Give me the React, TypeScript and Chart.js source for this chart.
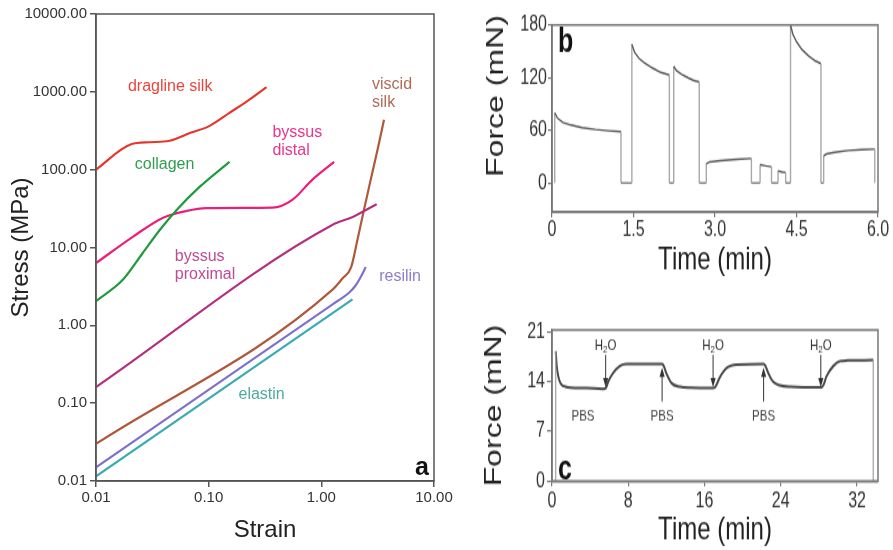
import React, { useEffect, useRef } from "react";
import { Chart, registerables } from "chart.js";

Chart.register(...registerables);

const FONT = "'Liberation Sans', Arial, Helvetica, sans-serif";
const STRETCH = 4 / 3; // panels b and c are vertically stretched in the reference

// ---------------- Panel a : stress vs strain (log-log) ----------------
const strainTicks = [0.01, 0.1, 1, 10];
const stressTicks = [0.01, 0.1, 1, 10, 100, 1000, 10000];

const draglineSilk = [[0.01, 100], [0.0205, 212], [0.03, 225], [0.045, 235], [0.07, 300], [0.1, 360], [0.153, 537], [0.22, 760], [0.326, 1150]];
const collagen = [[0.01, 2.05], [0.0173, 3.84], [0.026, 8.5], [0.0368, 16.8], [0.052, 30.4], [0.083, 60], [0.153, 126]];
const byssusDistal = [[0.01, 6.3], [0.0212, 13.7], [0.039, 24], [0.064, 29.5], [0.096, 32], [0.2, 32.3], [0.368, 32.5], [0.553, 41], [0.83, 74], [1.3, 126]];
const byssusProximal = [[0.01, 0.161], [1.25, 19.5], [1.9, 24.7], [3.1, 36]];
const viscidSilk = [[0.01, 0.03], [1.25, 2.85], [1.54, 4.0], [1.84, 5.6], [2.09, 12.5], [2.32, 25], [2.66, 61], [3.15, 179], [3.6, 437]];
const resilin = [[0.01, 0.015], [1.25, 1.85], [1.75, 2.6], [2.0, 3.2], [2.2, 4.0], [2.48, 5.6]];
const elastin = [[0.01, 0.0115], [1.89, 2.16]];

const seriesNamesA = ["dragline silk", "collagen", "byssus distal", "byssus proximal", "viscid silk", "resilin", "elastin"];
const seriesPointsA = [draglineSilk, collagen, byssusDistal, byssusProximal, viscidSilk, resilin, elastin];
const lineColorsA = ["#e8352b", "#1f9a3e", "#ec1e7a", "#b4307f", "#b0583b", "#7f70cc", "#3aabb0"];

const labelsA = [
  { lines: ["dragline silk"], strain: 0.0192, stress: 1160, color: "#e8463a" },
  { lines: ["collagen"], strain: 0.0221, stress: 115, color: "#2f9e4f" },
  { lines: ["byssus", "distal"], strain: 0.368, stress: 297, color: "#e9358b" },
  { lines: ["viscid", "silk"], strain: 2.82, stress: 1230, color: "#b26a55" },
  { lines: ["byssus", "proximal"], strain: 0.05, stress: 7.6, color: "#c04a94" },
  { lines: ["resilin"], strain: 3.26, stress: 4.19, color: "#8a80cc" },
  { lines: ["elastin"], strain: 0.184, stress: 0.127, color: "#4fa9a2" },
];
const panelLetterA = { text: "a", strain: 9.0, stress: 0.0147 };

// ---------------- Panel b : force vs time ----------------
const timeTicksB = [0, 1.5, 3, 4.5, 6];
const forceTicksB = [0, 60, 120, 180];
const timeB = [
  0.05, 0.05, 0.1, 0.2, 0.35, 0.55, 0.8, 1.05, 1.27, 1.27,
  1.47, 1.47, 1.52, 1.6, 1.7, 1.85, 2.0, 2.16, 2.16,
  2.24, 2.24, 2.29, 2.38, 2.5, 2.6, 2.71, 2.71,
  2.84, 2.84, 2.9, 3.1, 3.4, 3.67, 3.67,
  3.83, 3.83, 3.93, 4.04, 4.04,
  4.16, 4.16, 4.23, 4.3, 4.3,
  4.39, 4.39, 4.43, 4.5, 4.6, 4.72, 4.85, 4.95, 4.95,
  5.0, 5.0, 5.05, 5.2, 5.45, 5.7, 5.94, 5.94,
];
const forceB = [
  0, 80, 74, 69, 66, 63, 61, 59.5, 58.5, 0,
  0, 158, 149, 142, 137, 131, 126, 123, 0,
  0, 133, 128, 124, 120, 117, 115, 0,
  0, 22, 24, 25.5, 27, 28, 0,
  0, 21, 19.5, 18.5, 0,
  0, 14, 12.5, 12, 0,
  0, 180, 170, 161, 152, 145, 139, 136, 0,
  0, 31, 33, 35, 37, 38, 38.5, 0,
];
const panelLetterB = { text: "b", time: 0.11, force: 160 };

// ---------------- Panel c : force vs time with buffer changes ----------------
const timeTicksC = [0, 8, 16, 24, 32];
const forceTicksC = [0, 7, 14, 21];
const timeC = [0.39, 0.5, 0.66, 0.85, 1.0, 1.4, 1.9, 3.6, 5.35, 5.65, 5.9, 6.4, 7.1, 7.8, 11.5, 11.7, 12.0, 12.55, 13.4, 14.5, 16.9, 17.1, 17.6, 18.3, 19.4, 22.2, 22.4, 22.7, 23.2, 23.9, 25, 28.3, 28.5, 28.8, 29.5, 30.2, 31, 33.7];
const forceC = [18.3, 16.2, 14.75, 13.9, 13.6, 13.3, 13.15, 13.1, 13.0, 13.1, 14.0, 15.2, 16.2, 16.5, 16.5, 16.3, 15.2, 13.8, 13.3, 13.15, 13.1, 13.2, 14.6, 15.9, 16.4, 16.5, 16.2, 15.2, 14.0, 13.5, 13.3, 13.2, 13.6, 14.75, 16.2, 16.9, 17.0, 17.05];
const startDropC = [[0.39, 0], [0.39, 18.3]];
const endDropC = [[33.7, 17.05], [33.7, 0]];
const h2oTimes = [5.63, 16.9, 28.2];
const pbsLabelTimes = [3.25, 11.55, 22.2];
const pbsArrowTimes = [11.55, 22.2];
const h2oLabelLevel = 19.1;
const h2oArrowFrom = 17.8;
const h2oArrowTo = 13.2;
const pbsLabelLevel = 9.05;
const pbsArrowFrom = 11.2;
const pbsArrowTo = 16.0;
const panelLetterC = { text: "c", time: 0.63, force: 1.56 };

// ---------------- plugins ----------------
const framePlugin = {
  id: "frame",
  afterDraw(chart: any, _args: any, opts: any) {
    const { ctx, chartArea: a } = chart;
    ctx.save();
    ctx.strokeStyle = opts.color || "#555";
    ctx.lineWidth = opts.width || 1.5;
    ctx.strokeRect(a.left, a.top, a.right - a.left, a.bottom - a.top);
    ctx.restore();
  },
};

const sideTitlePlugin = {
  id: "sideTitle",
  afterDraw(chart: any, _args: any, opts: any) {
    const { ctx, chartArea } = chart;
    const cy = opts.y == null ? (chartArea.top + chartArea.bottom) / 2 : opts.y;
    ctx.save();
    ctx.translate(opts.x, cy);
    ctx.rotate(-Math.PI / 2);
    ctx.font = `24px ${FONT}`;
    ctx.fillStyle = "#222";
    ctx.textAlign = "center";
    ctx.textBaseline = "middle";
    ctx.fillText(opts.text, 0, 0);
    ctx.restore();
  },
};

const labelsPluginA = {
  id: "labelsA",
  afterDatasetsDraw(chart: any) {
    const { ctx, scales } = chart;
    const x = scales.x, y = scales.y;
    ctx.save();
    ctx.font = `16px ${FONT}`;
    ctx.textBaseline = "middle";
    ctx.textAlign = "left";
    labelsA.forEach((l) => {
      const px = x.getPixelForValue(l.strain);
      const py = y.getPixelForValue(l.stress);
      ctx.fillStyle = l.color;
      l.lines.forEach((line, k) => ctx.fillText(line, px, py + k * 18));
    });
    ctx.font = `bold 25px ${FONT}`;
    ctx.fillStyle = "#111";
    ctx.textAlign = "right";
    ctx.fillText(panelLetterA.text, x.getPixelForValue(panelLetterA.strain), y.getPixelForValue(panelLetterA.stress));
    ctx.restore();
  },
};

const letterPlugin = {
  id: "letter",
  afterDatasetsDraw(chart: any, _args: any, opts: any) {
    const { ctx, scales } = chart;
    ctx.save();
    ctx.font = `bold 25px ${FONT}`;
    ctx.fillStyle = "#111";
    ctx.textAlign = "left";
    ctx.textBaseline = "middle";
    ctx.fillText(opts.text, scales.x.getPixelForValue(opts.time), scales.y.getPixelForValue(opts.force));
    ctx.restore();
  },
};

function drawArrow(ctx: CanvasRenderingContext2D, x: number, yFrom: number, yTo: number) {
  const dir = yTo > yFrom ? 1 : -1;
  const head = 7;
  ctx.beginPath();
  ctx.moveTo(x, yFrom);
  ctx.lineTo(x, yTo - dir * head * 0.6);
  ctx.stroke();
  ctx.beginPath();
  ctx.moveTo(x, yTo);
  ctx.lineTo(x - 2.6, yTo - dir * head);
  ctx.lineTo(x + 2.6, yTo - dir * head);
  ctx.closePath();
  ctx.fill();
}

function drawH2O(ctx: CanvasRenderingContext2D, cx: number, cy: number) {
  const big = `11.5px ${FONT}`;
  const small = `8px ${FONT}`;
  ctx.font = big;
  const wH = ctx.measureText("H").width;
  const wO = ctx.measureText("O").width;
  ctx.font = small;
  const w2 = ctx.measureText("2").width;
  let x = cx - (wH + w2 + wO) / 2;
  ctx.textAlign = "left";
  ctx.textBaseline = "middle";
  ctx.font = big;
  ctx.fillText("H", x, cy);
  x += wH;
  ctx.font = small;
  ctx.fillText("2", x, cy + 3);
  x += w2;
  ctx.font = big;
  ctx.fillText("O", x, cy);
}

const annotationsPluginC = {
  id: "annotC",
  afterDatasetsDraw(chart: any) {
    const { ctx, scales } = chart;
    const x = scales.x, y = scales.y;
    ctx.save();
    ctx.strokeStyle = "#333";
    ctx.fillStyle = "#333";
    ctx.lineWidth = 1;
    h2oTimes.forEach((t) => {
      const px = x.getPixelForValue(t);
      drawH2O(ctx, px, y.getPixelForValue(h2oLabelLevel));
      drawArrow(ctx, px, y.getPixelForValue(h2oArrowFrom), y.getPixelForValue(h2oArrowTo));
    });
    pbsArrowTimes.forEach((t) => {
      drawArrow(ctx, x.getPixelForValue(t), y.getPixelForValue(pbsArrowFrom), y.getPixelForValue(pbsArrowTo));
    });
    ctx.font = `11.5px ${FONT}`;
    ctx.textAlign = "center";
    ctx.textBaseline = "middle";
    ctx.fillStyle = "#444";
    pbsLabelTimes.forEach((t) => {
      ctx.fillText("PBS", x.getPixelForValue(t), y.getPixelForValue(pbsLabelLevel));
    });
    ctx.restore();
  },
};

// ---------------- configs ----------------
const tickFont = (size: number) => ({ family: FONT, size });

function makeConfigA(): any {
  const datasets = seriesPointsA.map((pts, i) => ({
    label: seriesNamesA[i],
    data: pts.map(([x, y]) => ({ x, y })),
    borderColor: lineColorsA[i],
    borderWidth: 2.2,
    pointRadius: 0,
    cubicInterpolationMode: "monotone",
    fill: false,
  }));
  return {
    type: "line",
    data: { datasets },
    plugins: [framePlugin, labelsPluginA],
    options: {
      animation: false,
      responsive: false,
      events: [],
      layout: { padding: { top: 14, right: 36, bottom: 0, left: 0 } },
      plugins: { legend: { display: false }, tooltip: { enabled: false }, frame: { color: "#555", width: 1.5 } },
      scales: {
        x: {
          type: "logarithmic",
          min: 0.01,
          max: 10,
          afterBuildTicks: (s: any) => { s.ticks = strainTicks.map((v) => ({ value: v })); },
          afterFit: (s: any) => { s.height = 69; },
          ticks: { autoSkip: false, maxRotation: 0, padding: 2, color: "#333", font: tickFont(15), callback: (v: any) => Number(v).toFixed(2) },
          grid: { drawOnChartArea: false, tickLength: 6, color: "#555", lineWidth: 1.5 },
          border: { display: true, color: "#555", width: 1.5 },
          title: { display: true, text: "Strain", color: "#222", font: tickFont(24), padding: { top: 0, bottom: 5 } },
        },
        y: {
          type: "logarithmic",
          min: 0.01,
          max: 10000,
          afterBuildTicks: (s: any) => { s.ticks = stressTicks.map((v) => ({ value: v })); },
          afterFit: (s: any) => { s.width = 96; },
          ticks: { autoSkip: false, padding: 3, color: "#333", font: tickFont(15), callback: (v: any) => Number(v).toFixed(2) },
          grid: { drawOnChartArea: false, tickLength: 6, color: "#555", lineWidth: 1.5 },
          border: { display: true, color: "#555", width: 1.5 },
          title: { display: true, text: "Stress (MPa)", color: "#222", font: tickFont(24), padding: { top: 7, bottom: 0 } },
        },
      },
    },
  };
}

function makeConfigB(): any {
  return {
    type: "line",
    data: {
      datasets: [
        {
          label: "Force",
          data: timeB.map((t, i) => ({ x: t, y: forceB[i] })),
          borderColor: "#5a5a5a",
          borderWidth: 1.4,
          pointRadius: 0,
          tension: 0,
          fill: false,
          segment: {
            borderColor: (c: any) => (c.p0.parsed.x === c.p1.parsed.x ? "#a8a8a8" : c.p0.parsed.y === 0 && c.p1.parsed.y === 0 ? "#8a8a8a" : "#5a5a5a"),
          },
        },
      ],
    },
    plugins: [framePlugin, sideTitlePlugin, letterPlugin],
    options: {
      animation: false,
      responsive: false,
      events: [],
      layout: { padding: { top: 25 / STRETCH, right: 15, bottom: 0, left: 0 } },
      plugins: {
        legend: { display: false },
        tooltip: { enabled: false },
        frame: { color: "#777", width: 1.5 },
        sideTitle: { text: "Force (mN)", x: 26, y: 96 / STRETCH },
        letter: panelLetterB,
      },
      scales: {
        x: {
          type: "linear",
          min: 0,
          max: 6,
          afterBuildTicks: (s: any) => { s.ticks = timeTicksB.map((v) => ({ value: v })); },
          afterFit: (s: any) => { s.height = 210 - 212 / STRETCH; },
          ticks: { autoSkip: false, maxRotation: 0, padding: 0, color: "#333", font: tickFont(16), callback: (v: any) => (Number(v) === 0 ? "0" : Number(v).toFixed(1)) },
          grid: { drawOnChartArea: false, tickLength: 4, color: "#777", lineWidth: 1.2 },
          border: { display: true, color: "#777", width: 1.5 },
          title: { display: true, text: "Time (min)", color: "#222", font: tickFont(24), padding: { top: 0, bottom: 0 } },
        },
        y: {
          type: "linear",
          min: -33,
          max: 180,
          afterBuildTicks: (s: any) => { s.ticks = forceTicksB.map((v) => ({ value: v })); },
          afterFit: (s: any) => { s.width = 82; },
          ticks: { autoSkip: false, padding: 1, color: "#333", font: tickFont(16), callback: (v: any) => String(v) },
          grid: { drawOnChartArea: false, tickLength: 4, color: "#777", lineWidth: 1.2 },
          border: { display: true, color: "#777", width: 1.5 },
        },
      },
    },
  };
}

function makeConfigC(): any {
  const thin = { borderColor: "#a0a0a0", borderWidth: 1.2, pointRadius: 0, tension: 0, fill: false };
  return {
    type: "line",
    data: {
      datasets: [
        { label: "start", data: startDropC.map(([x, y]) => ({ x, y })), ...thin },
        { label: "end", data: endDropC.map(([x, y]) => ({ x, y })), ...thin },
        {
          label: "Force",
          data: timeC.map((t, i) => ({ x: t, y: forceC[i] })),
          borderColor: "#4a4a4a",
          borderWidth: 2,
          pointRadius: 0,
          cubicInterpolationMode: "monotone",
          fill: false,
        },
      ],
    },
    plugins: [framePlugin, sideTitlePlugin, letterPlugin, annotationsPluginC],
    options: {
      animation: false,
      responsive: false,
      events: [],
      layout: { padding: { top: 40 / STRETCH, right: 15, bottom: 0, left: 0 } },
      plugins: {
        legend: { display: false },
        tooltip: { enabled: false },
        frame: { color: "#777", width: 1.5 },
        sideTitle: { text: "Force (mN)", x: 24 },
        letter: panelLetterC,
      },
      scales: {
        x: {
          type: "linear",
          min: 0,
          max: 34.2,
          afterBuildTicks: (s: any) => { s.ticks = timeTicksC.map((v) => ({ value: v })); },
          afterFit: (s: any) => { s.height = 195 - 191 / STRETCH; },
          ticks: { autoSkip: false, maxRotation: 0, padding: 2, color: "#333", font: tickFont(16), callback: (v: any) => String(v) },
          grid: { drawOnChartArea: false, tickLength: 4, color: "#777", lineWidth: 1.2 },
          border: { display: true, color: "#777", width: 1.5 },
          title: { display: true, text: "Time (min)", color: "#222", font: tickFont(24), padding: { top: 0, bottom: 0 } },
        },
        y: {
          type: "linear",
          min: 0,
          max: 21.3,
          afterBuildTicks: (s: any) => { s.ticks = forceTicksC.map((v) => ({ value: v })); },
          afterFit: (s: any) => { s.width = 82; },
          ticks: { autoSkip: false, padding: 2, color: "#333", font: tickFont(16), callback: (v: any) => String(v) },
          grid: { drawOnChartArea: false, tickLength: 5, color: "#777", lineWidth: 1.2 },
          border: { display: true, color: "#777", width: 1.5 },
        },
      },
    },
  };
}

// ---------------- components ----------------
function ChartCanvas(props: { make: () => any; left: number; top: number; width: number; height: number; cssHeight: number }) {
  const ref = useRef<HTMLCanvasElement | null>(null);
  useEffect(() => {
    if (!ref.current) return;
    const chart = new Chart(ref.current, props.make());
    return () => chart.destroy();
  }, []);
  return (
    <canvas
      ref={ref}
      width={props.width}
      height={props.height}
      style={{
        position: "absolute",
        left: props.left,
        top: props.top,
        width: `${props.width}px`,
        height: `${props.cssHeight}px`,
      }}
    />
  );
}

export default function App() {
  return (
    <div style={{ position: "absolute", left: 0, top: 0, width: 893, height: 550, background: "#fff", overflow: "hidden" }}>
      <ChartCanvas make={makeConfigA} left={0} top={0} width={470} height={550} cssHeight={550} />
      <ChartCanvas make={makeConfigB} left={470} top={0} width={423} height={210} cssHeight={280} />
      <ChartCanvas make={makeConfigC} left={470} top={290} width={423} height={195} cssHeight={260} />
    </div>
  );
}
